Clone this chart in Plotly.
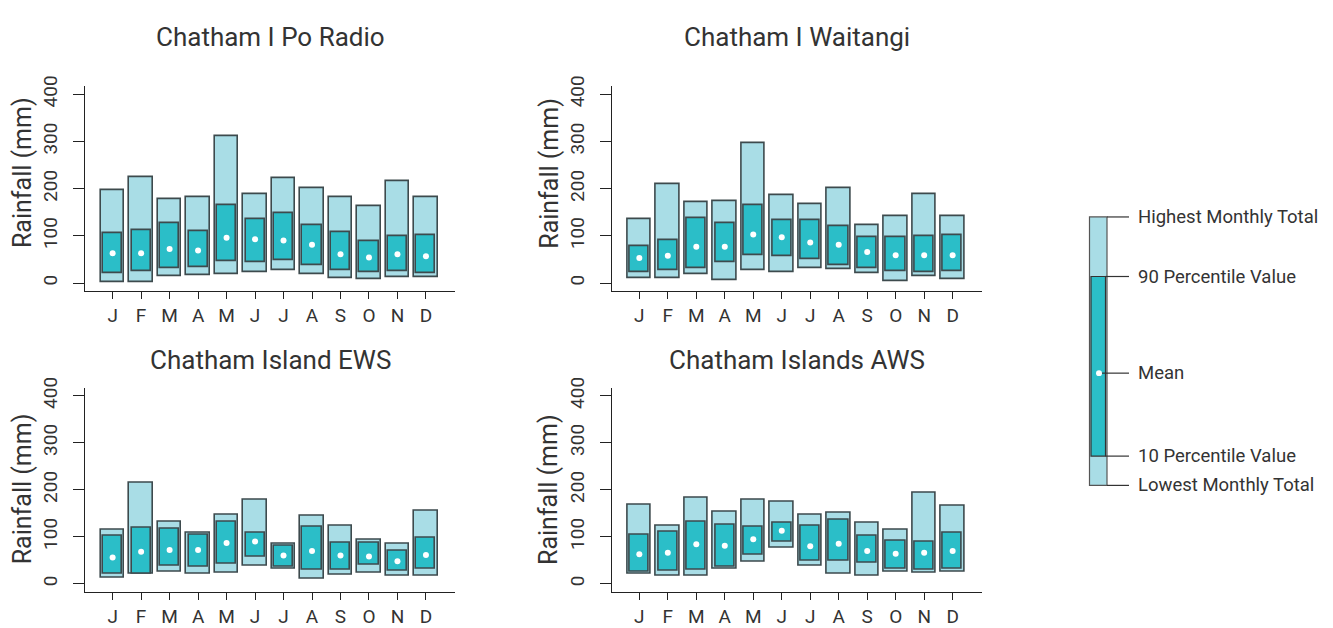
import plotly.graph_objects as go

months = ["J", "F", "M", "A", "M", "J", "J", "A", "S", "O", "N", "D"]
stations = ["Chatham I Po Radio", "Chatham I Waitangi", "Chatham Island EWS", "Chatham Islands AWS"]

# Chatham I Po Radio
po_high = [197, 225, 178, 182, 311, 189, 222, 202, 181, 162, 216, 181]
po_low = [3, 3, 15, 17, 20, 24, 27, 18, 10, 8, 12, 12]
po_p90 = [105, 113, 127, 111, 166, 135, 148, 122, 108, 89, 100, 102]
po_p10 = [21, 25, 31, 34, 46, 45, 48, 38, 28, 23, 26, 21]
po_mean = [63, 63, 72, 69, 96, 93, 90, 81, 61, 54, 61, 57]

# Chatham I Waitangi
wa_high = [136, 209, 171, 173, 296, 186, 167, 201, 122, 142, 189, 142]
wa_low = [10, 10, 18, 6, 28, 24, 32, 30, 21, 4, 15, 9]
wa_p90 = [78, 92, 137, 128, 165, 134, 134, 121, 97, 97, 100, 102]
wa_p10 = [23, 28, 31, 45, 60, 57, 50, 37, 31, 26, 23, 25]
wa_mean = [53, 58, 77, 77, 103, 97, 86, 81, 66, 59, 59, 59]

# Chatham Island EWS
ew_high = [115, 215, 132, 109, 146, 179, 86, 144, 124, 93, 85, 156]
ew_low = [13, 21, 25, 21, 23, 39, 32, 10, 20, 23, 18, 18]
ew_p90 = [103, 120, 118, 104, 133, 109, 80, 122, 87, 87, 71, 97]
ew_p10 = [21, 22, 39, 36, 43, 58, 37, 30, 30, 41, 28, 32]
ew_mean = [56, 68, 72, 72, 87, 90, 60, 70, 60, 58, 48, 61]

# Chatham Islands AWS
aw_high = [168, 123, 182, 153, 179, 175, 146, 152, 129, 115, 193, 167]
aw_low = [21, 17, 17, 33, 46, 77, 38, 21, 17, 26, 23, 25]
aw_p90 = [104, 111, 133, 126, 122, 129, 124, 137, 103, 92, 89, 108]
aw_p10 = [26, 28, 29, 37, 61, 90, 48, 48, 44, 33, 30, 33]
aw_mean = [63, 66, 84, 81, 95, 113, 80, 85, 70, 64, 66, 70]

y_ticks = [0, 100, 200, 300, 400]
legend_labels = ["Highest Monthly Total", "90 Percentile Value", "Mean",
                 "10 Percentile Value", "Lowest Monthly Total"]

data = [
    (po_high, po_low, po_p90, po_p10, po_mean),
    (wa_high, wa_low, wa_p90, wa_p10, wa_mean),
    (ew_high, ew_low, ew_p90, ew_p10, ew_mean),
    (aw_high, aw_low, aw_p90, aw_p10, aw_mean),
]

W, H = 1333, 628
LIGHT = "#a9dde6"
TEAL = "#2bbec8"
EDGE = "#3d4a4d"
TXT = "#333333"
FONT = "Roboto"

def px(x):
    return x / W

def py(y):
    return 1 - y / H

xdoms = [(85, 455), (611.7, 981.7)]
ydoms = [(77, 287), (386, 595)]

fig = go.Figure()
xpos = list(range(1, 13))

for i, (hi, lo, p90, p10, mn) in enumerate(data):
    ax = "" if i == 0 else str(i + 1)
    xa, ya = "x" + ax, "y" + ax
    fig.add_trace(go.Bar(
        x=xpos, y=[h - l for h, l in zip(hi, lo)], base=lo, width=0.83,
        marker=dict(color=LIGHT, line=dict(color=EDGE, width=1.6)),
        xaxis=xa, yaxis=ya, showlegend=False, hoverinfo="skip"))
    fig.add_trace(go.Bar(
        x=xpos, y=[h - l for h, l in zip(p90, p10)], base=p10, width=0.67,
        marker=dict(color=TEAL, line=dict(color=EDGE, width=1.6)),
        xaxis=xa, yaxis=ya, showlegend=False, hoverinfo="skip"))
    fig.add_trace(go.Scatter(
        x=xpos, y=mn, mode="markers",
        marker=dict(color="white", size=6, line=dict(width=0)),
        xaxis=xa, yaxis=ya, showlegend=False, hoverinfo="skip"))

    r, c = divmod(i, 2)
    xd = xdoms[c]
    yd = ydoms[r]
    fig.update_layout(**{
        "xaxis" + ax: dict(
            domain=[px(xd[0]), px(xd[1])], range=[0.03, 13.02],
            tickmode="array", tickvals=xpos, ticktext=months,
            ticks="outside", ticklen=7, tickwidth=1.2, tickcolor="#222",
            showline=True, linecolor="#222", linewidth=1.2,
            showgrid=False, zeroline=False, anchor=ya,
            tickfont=dict(family=FONT, size=19, color=TXT), fixedrange=True),
        "yaxis" + ax: dict(
            domain=[py(yd[1]), py(yd[0])], range=[-17, 417],
            tickmode="array", tickvals=y_ticks, tickangle=-90,
            ticks="outside", ticklen=11, tickwidth=1.2, tickcolor="#222",
            showline=True, linecolor="#222", linewidth=1.2,
            showgrid=False, zeroline=False, anchor=xa, ticklabelstandoff=8,
            tickfont=dict(family=FONT, size=19, color=TXT), fixedrange=True),
    })
    # panel title
    fig.add_annotation(
        text=stations[i], xref="paper", yref="paper",
        x=px((xd[0] + xd[1]) / 2), y=py([27, 358][r]),
        xanchor="center", yanchor="middle", showarrow=False,
        font=dict(family=FONT, size=26, color=TXT))
    # y title
    fig.add_annotation(
        text="Rainfall (mm)", xref="paper", yref="paper",
        x=px(xd[0] - 63), y=py([166, 490][r]), textangle=-90,
        xanchor="center", yanchor="middle", showarrow=False,
        font=dict(family=FONT, size=25, color=TXT))

# Key / legend (illustrative)
kx0, kx1 = 1089.5, 1107
ix0, ix1 = 1091, 1105.5
ky = [211, 272, 371, 456, 486]
fig.add_shape(type="rect", xref="paper", yref="paper",
              x0=px(kx0), x1=px(kx1), y0=py(ky[4]), y1=py(ky[0]),
              fillcolor=LIGHT, line=dict(color="#555", width=1.2))
fig.add_shape(type="rect", xref="paper", yref="paper",
              x0=px(ix0), x1=px(ix1), y0=py(ky[3]), y1=py(ky[1]),
              fillcolor=TEAL, line=dict(color="#333", width=1.2))
line_starts = [kx1, ix1, 1099, ix1, kx1]
for yv, xs, lab in zip(ky, line_starts, legend_labels):
    fig.add_shape(type="line", xref="paper", yref="paper",
                  x0=px(xs), x1=px(1129), y0=py(yv), y1=py(yv),
                  line=dict(color="#333", width=1.2))
    fig.add_annotation(text=lab, xref="paper", yref="paper",
                       x=px(1136), y=py(yv), xanchor="left", yanchor="middle",
                       showarrow=False, font=dict(family=FONT, size=18.5, color=TXT))
fig.add_shape(type="circle", xref="paper", yref="paper",
              x0=px(1096), x1=px(1102), y0=py(374), y1=py(368),
              fillcolor="white", line=dict(width=0))

fig.update_layout(
    width=W, height=H, margin=dict(l=0, r=0, t=0, b=0),
    paper_bgcolor="white", plot_bgcolor="white",
    barmode="overlay", bargap=0, showlegend=False,
    font=dict(family=FONT, color=TXT),
)

fig.write_html(
    "out.html",
    config={"displayModeBar": False},
    post_script="document.documentElement.style.margin='0';document.body.style.margin='0';document.body.style.overflow='hidden';",
)
